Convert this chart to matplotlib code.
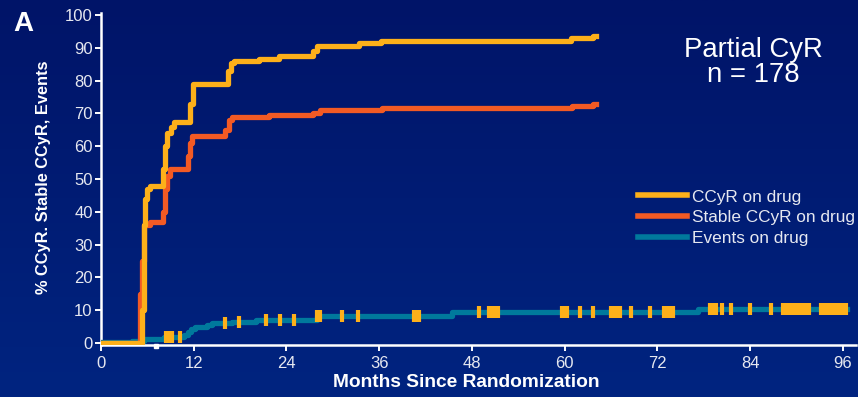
import numpy as np
import matplotlib
matplotlib.use("Agg")
import matplotlib.pyplot as plt

plt.rcParams['font.family'] = ['Liberation Sans', 'DejaVu Sans']

# step curves (months, %)
ccyr_t = [0, 5.3, 5.5, 5.7, 5.9, 6.3, 8.0, 8.3, 8.6, 9.0, 9.5, 11.5, 11.9, 16.4, 16.8, 17.2,
          20.5, 23.0, 27.4, 28.0, 33.4, 36.2, 60.8, 63.7, 64.0]
ccyr_v = [0, 10, 36, 44, 47, 48, 53, 60, 64, 66, 67.5, 73, 79, 83, 85.5, 86,
          86.6, 87.5, 89, 90.5, 91.5, 92.2, 93, 93.5, 93.5]

stable_t = [0, 5.0, 5.3, 5.6, 6.3, 8.0, 8.3, 8.6, 8.9, 11.2, 11.5, 11.8, 16.0, 16.5, 17.0,
            21.8, 27.4, 28.3, 36.4, 61.0, 63.7, 64.0]
stable_v = [0, 15, 25, 36, 37, 40, 47, 51, 53, 57, 61, 63, 65, 68, 69,
            69.5, 70, 71, 71.6, 72.3, 72.8, 72.8]

events_t = [0, 4.0, 5.5, 8.2, 10.8, 11.2, 11.6, 12.1, 13.7, 14.3, 17.0, 20.0, 27.9, 45.4,
            77.3, 96.5]
events_v = [0.2, 0.6, 1.1, 1.7, 2.4, 3.4, 4.3, 4.9, 5.5, 6.0, 6.4, 7.0, 8.1, 9.3,
            10.3, 10.3]

# censored patients on the events curve
censor_t = [8.4, 8.8, 9.2, 10.2, 16.0, 17.8, 21.4, 23.1, 25.0, 27.9, 28.3, 31.2, 33.2,
            40.5, 40.9, 41.2, 48.9, 50.2, 50.6, 51.0, 51.4, 59.6, 60.0, 60.3, 62.0, 63.7,
            66.0, 66.4, 66.8, 67.2, 68.6, 71.0, 72.8, 73.2, 73.6, 74.0, 78.8, 79.2, 79.6,
            80.4, 81.5, 84.0, 86.7, 88.3, 88.7, 89.1, 89.5, 89.9, 90.3, 90.8, 91.2, 91.6,
            93.2, 93.6, 94.0, 94.4, 94.8, 95.2, 95.6, 96.0, 96.4]

labels = ["CCyR on drug", "Stable CCyR on drug", "Events on drug"]
colors = ["#FDB01A", "#F25A24", "#00799C"]

fig = plt.figure(figsize=(8.58, 3.97), dpi=100)

# blue gradient backdrop
bg = fig.add_axes([0, 0, 1, 1], zorder=-5)
top = np.array([0, 20, 104]) / 255
bot = np.array([0, 36, 128]) / 255
g = np.linspace(0, 1, 256)[:, None, None]
grad = top + (bot - top) * g
bg.imshow(np.repeat(grad, 2, axis=1), aspect='auto', extent=[0, 1, 0, 1])
bg.axis('off')

ax = fig.add_axes([101/858, 52.5/397, 755/858, 331/397])
ax.set_facecolor('none')

ax.step(events_t, events_v, where='post', color=colors[2], lw=3.8, label=labels[2], zorder=3)
ax.step(stable_t, stable_v, where='post', color=colors[1], lw=3.8, label=labels[1], zorder=4)
ax.step(ccyr_t, ccyr_v, where='post', color=colors[0], lw=3.8, label=labels[0], zorder=5)

idx = np.searchsorted(events_t, censor_t, side='right') - 1
censor_y = np.array(events_v)[idx]
ax.plot(censor_t, censor_y, ls='none', marker='|', ms=9, mew=3, color=colors[0], zorder=6)

ax.plot([7.1], [-0.9], marker='s', ms=3.5, color='white', clip_on=False, zorder=7)

ax.set_xlim(0, 97.7)
ax.set_ylim(-0.5, 100.5)
ax.set_xticks(range(0, 97, 12))
ax.set_yticks(range(0, 101, 10))

for s in ['top', 'right']:
    ax.spines[s].set_visible(False)
for s in ['left', 'bottom']:
    ax.spines[s].set_color('white')
    ax.spines[s].set_linewidth(1.8)
ax.tick_params(colors='white', labelcolor='#E6E8F0', labelsize=12, length=4, width=1.4, pad=2)
ax.tick_params(axis='x', pad=4)

ax.set_xlabel("Months Since Randomization", color='white', fontsize=13.8, fontweight='bold')
ax.xaxis.set_label_coords(0.484, -0.116, transform=ax.transAxes)
ax.xaxis.label.set_va('center')
ax.set_ylabel("% CCyR. Stable CCyR, Events", color='white', fontsize=11.8, fontweight='bold')
ax.yaxis.set_label_coords(-0.076, 0.505, transform=ax.transAxes)
ax.yaxis.label.set_va('center')

handles, labs = ax.get_legend_handles_labels()
order = [2, 1, 0]
leg = ax.legend([handles[i] for i in order], [labs[i] for i in order],
                loc='center left', bbox_to_anchor=(0.711, 0.383), frameon=False,
                borderpad=0, borderaxespad=0,
                fontsize=12.4, handlelength=2.85, handletextpad=0.3, labelspacing=0.33,
                labelcolor='#E6E8F0')
for h in leg.get_lines():
    h.set_linewidth(4)

ax.text(0.864, 0.853, "Partial CyR\nn = 178", transform=ax.transAxes, color='white',
        fontsize=19.8, ha='center', va='center', linespacing=0.95)

fig.text(13/858, 1 - 24/397, "A", color='white', fontsize=20, fontweight='bold',
         ha='left', va='center')

fig.savefig("out.png", dpi=100)
